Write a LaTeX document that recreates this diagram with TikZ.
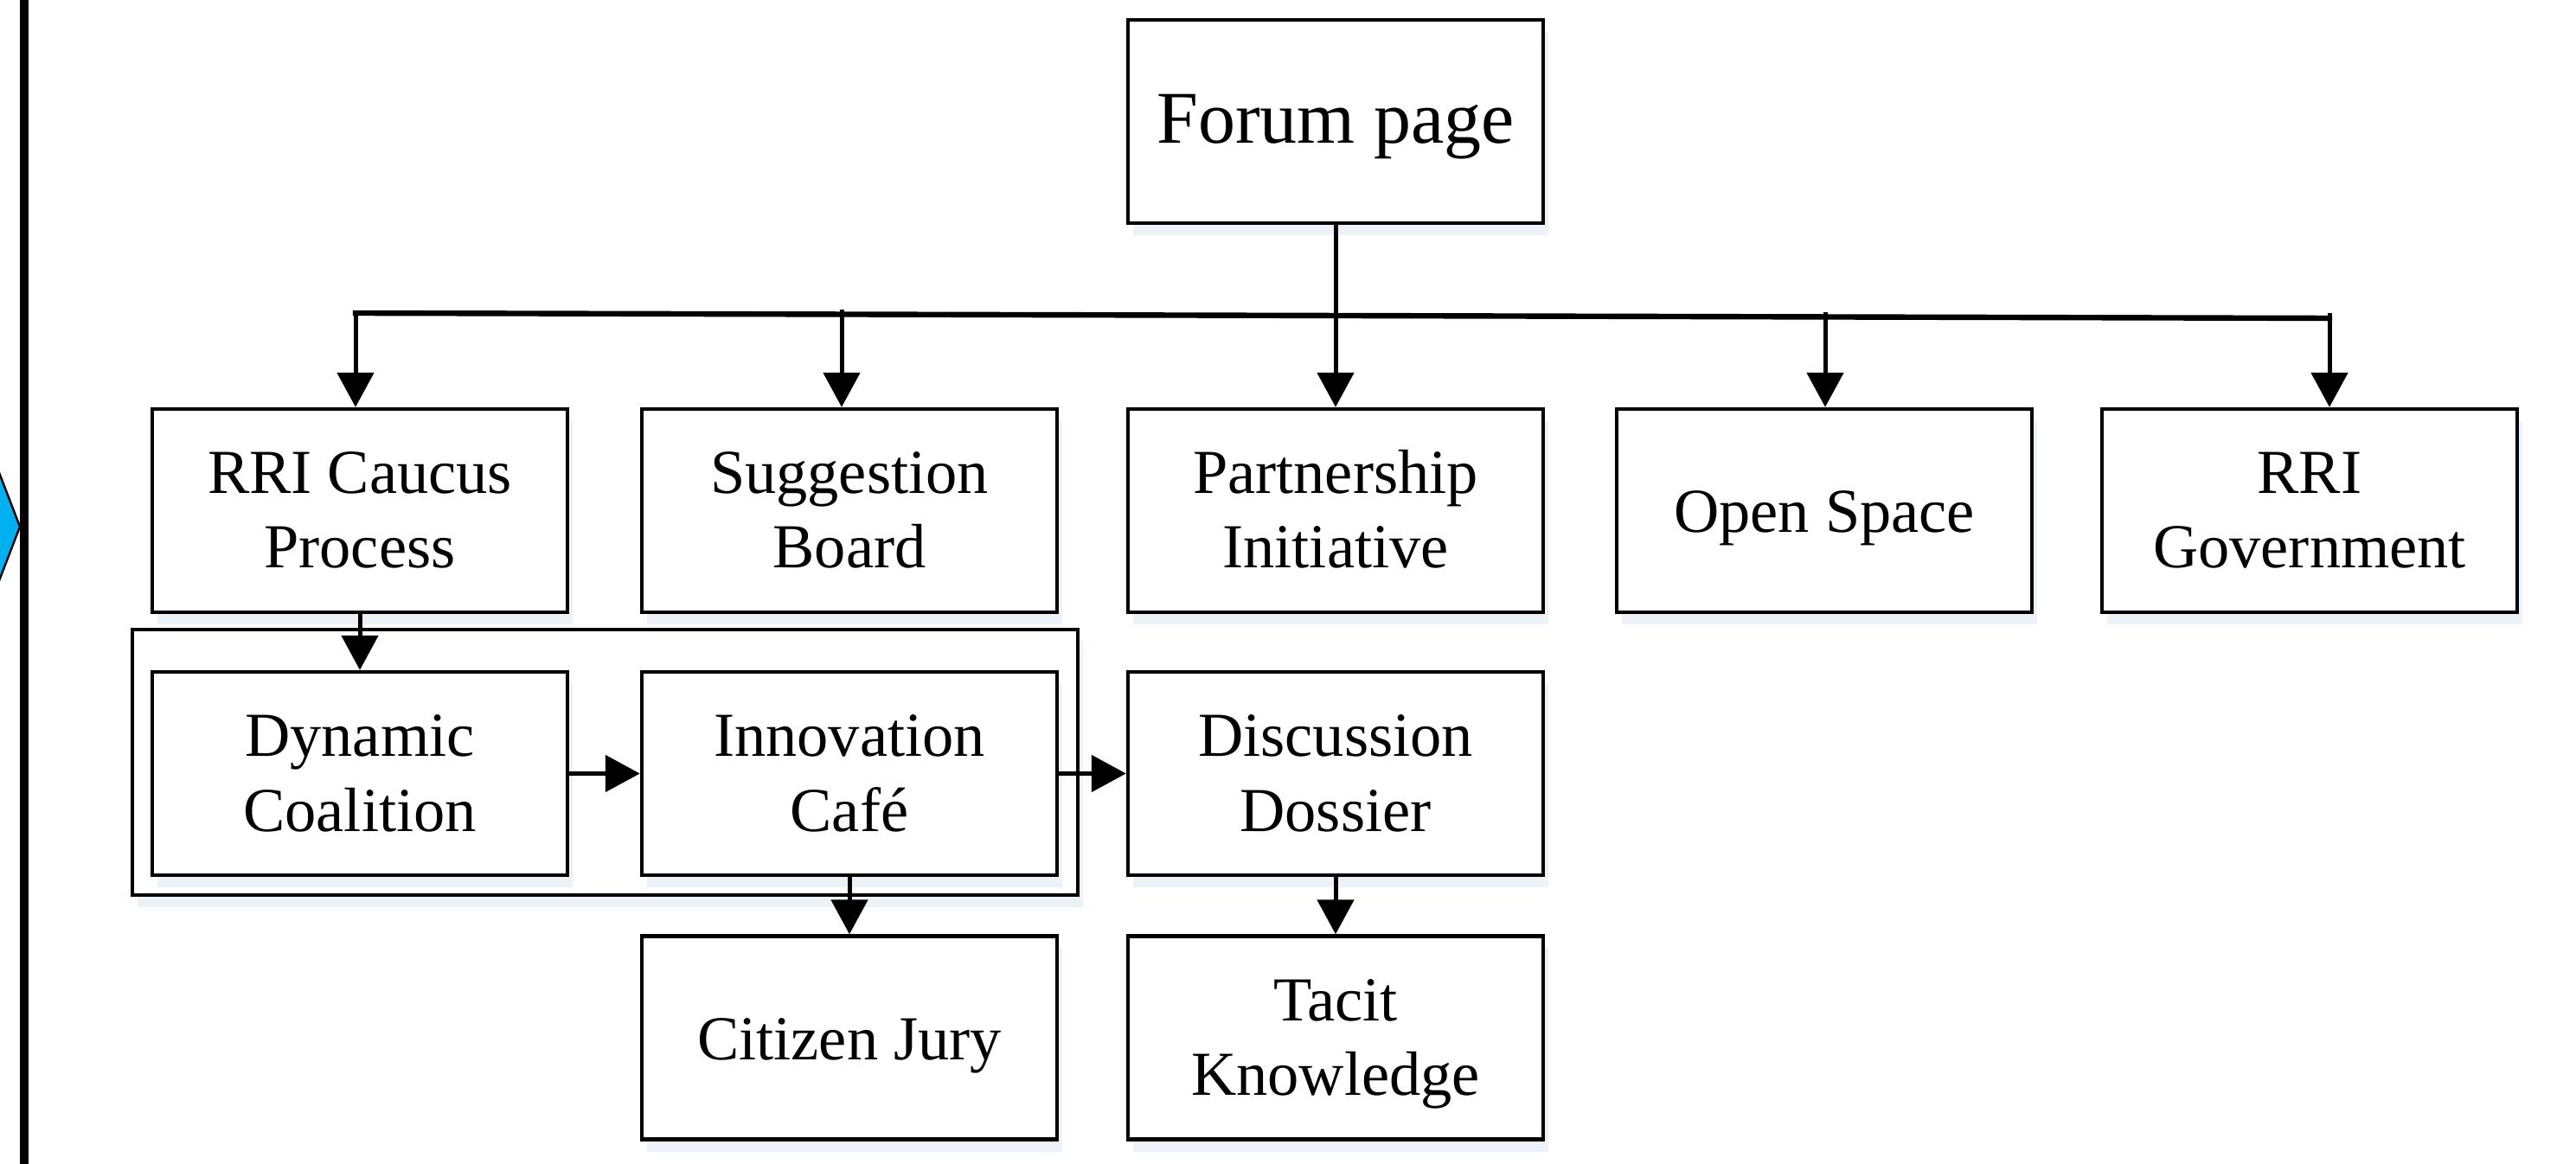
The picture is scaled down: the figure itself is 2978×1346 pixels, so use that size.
\documentclass[tikz,border=0pt]{standalone}
\usepackage{fontspec}
\setmainfont{Liberation Serif}
\usetikzlibrary{arrows.meta,shadows,calc}
\definecolor{arrowblue}{HTML}{00B0F0}
\definecolor{shadowc}{HTML}{EDF2F8}
% baseline-controlled text: single line baseline 25px below centre,
% two lines: last baseline 66.5px below centre
\newcommand{\oneline}[1]{\raisebox{0pt}[12.5pt][0pt]{#1}}
\newcommand{\twoline}[2]{\raisebox{0pt}[33.25pt][0pt]{\begin{tabular}[b]{@{}c@{}}#1\\#2\end{tabular}}}
\begin{document}
\begin{tikzpicture}[x=0.25pt,y=-0.25pt,
  box/.style={draw=black, line width=1.1pt, fill=white, minimum width=120pt,
    minimum height=58.75pt, align=center, inner sep=0pt,
    font=\fontsize{18.1pt}{21.6pt}\selectfont,
    general shadow={fill=shadowc, shadow xshift=1.5pt, shadow yshift=-3.5pt}},
  groupbox/.style={draw=black, line width=1.1pt, fill=white, minimum width=273.25pt,
    minimum height=76.75pt, inner sep=0pt,
    general shadow={fill=shadowc, shadow xshift=1.5pt, shadow yshift=-3.5pt}},
  conn/.style={line width=1.25pt, -{Triangle[length=10pt,width=10.5pt]}},
  bus/.style={line width=1.6pt, line cap=rect}]
\fill[white] (0,0) rectangle (2978,1346);
\useasboundingbox (0,0) rectangle (2978,1346);

% left side decoration
\filldraw[fill=arrowblue, draw=black, line width=0.6pt] (-20,497) -- (23,609) -- (-20,721) -- cycle;
\fill[black] (23,-5) rectangle (33,1351);

% group frame
\node[groupbox] (grp) at (699.5,881.5) {};

% boxes
\node[box, font=\fontsize{21.5pt}{26pt}\selectfont] (forum) at (1544,140.5) {\oneline{Forum page}};
\node[box] (cau) at (416,590.5) {\twoline{RRI Caucus}{Process}};
\node[box] (sug) at (982,590.5) {\twoline{Suggestion}{Board}};
\node[box] (par) at (1544,590.5) {\twoline{Partnership}{Initiative}};
\node[box] (ope) at (2109,590.5) {\oneline{Open Space}};
\node[box] (gov) at (2670,590.5) {\twoline{RRI}{Government}};
\node[box] (dyn) at (416,894.5) {\twoline{Dynamic}{Coalition}};
\node[box] (inn) at (982,894.5) {\twoline{Innovation}{Café}};
\node[box] (dis) at (1544,894.5) {\twoline{Discussion}{Dossier}};
\node[box] (cit) at (982,1200) {\oneline{Citizen Jury}};
\node[box] (tac) at (1544,1200) {\twoline{Tacit}{Knowledge}};

% bus
\coordinate (d1) at (411,362);
\coordinate (d2) at (973,363.5);
\coordinate (d4) at (2110,366.5);
\coordinate (d5) at (2693,368);
\draw[bus] (d1) -- (d5);
\draw[conn] (d1) -- (d1 |- cau.north);
\draw[conn] ($(d2)+(0,-5)$) -- (d2 |- sug.north);
\draw[conn] ($(d4)+(0,-5)$) -- (d4 |- ope.north);
\draw[conn] ($(d5)+(0,-6)$) -- (d5 |- gov.north);
\draw[conn] (forum.south) -- (par.north);

% lower connectors
\draw[conn] (cau.south) -- (dyn.north);
\draw[conn] (dyn.east) -- (inn.west);
\draw[conn] (inn.east) -- (dis.west);
\draw[conn] (inn.south) -- (cit.north);
\draw[conn] (dis.south) -- (tac.north);
\end{tikzpicture}
\end{document}
